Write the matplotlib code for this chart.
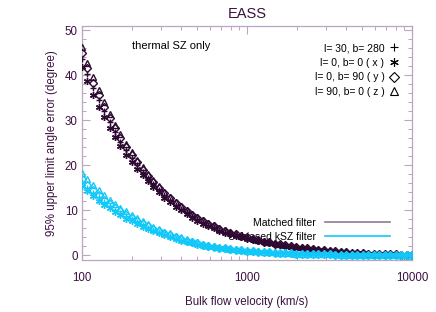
import matplotlib
matplotlib.use("Agg")
import matplotlib.pyplot as plt
from matplotlib.lines import Line2D
from matplotlib.ticker import MultipleLocator, LogLocator, NullFormatter, FixedLocator, FixedFormatter

plt.rcParams['font.family'] = ['Liberation Sans', 'DejaVu Sans']

velocity = [100, 108, 117, 126, 136, 147, 158, 171, 185, 200, 215, 233, 251, 271, 293, 316, 341, 369, 398, 430,
            464, 501, 541, 584, 631, 681, 736, 794, 858, 926, 1000, 1080, 1166, 1259, 1359, 1468, 1585, 1711, 1848, 1995,
            2154, 2326, 2512, 2712, 2929, 3162, 3415, 3687, 3981, 4299, 4642, 5012, 5412, 5843, 6310, 6813, 7356, 7943, 8577, 9261, 10000]

# Matched filter
mf_l30_b280 = [43.7, 40.4, 37.2, 34.5, 32.0, 29.6, 27.5, 25.3, 23.4, 21.6, 20.1, 18.5, 17.2, 15.8, 14.6, 13.4, 12.3, 11.3, 10.4, 9.6,
               8.7, 8.1, 7.4, 6.8, 6.3, 5.7, 5.3, 4.9, 4.6, 4.2, 3.9, 3.6, 3.3, 3.0, 2.8, 2.57, 2.38, 2.18, 1.99, 1.84,
               1.68, 1.52, 1.38, 1.24, 1.11, 0.99, 0.88, 0.79, 0.69, 0.61, 0.54, 0.49, 0.43, 0.38, 0.33, 0.29, 0.25, 0.22, 0.19, 0.16, 0.15]
mf_x = [41.9, 38.7, 35.7, 33.1, 30.7, 28.4, 26.3, 24.3, 22.4, 20.7, 19.3, 17.8, 16.5, 15.2, 14.0, 12.8, 11.8, 10.8, 10.0, 9.2,
        8.4, 7.7, 7.1, 6.5, 6.0, 5.5, 5.1, 4.7, 4.4, 4.0, 3.7, 3.4, 3.2, 2.9, 2.7, 2.46, 2.28, 2.09, 1.91, 1.77,
        1.61, 1.46, 1.32, 1.19, 1.06, 0.95, 0.85, 0.75, 0.66, 0.59, 0.52, 0.47, 0.41, 0.36, 0.32, 0.28, 0.24, 0.21, 0.19, 0.16, 0.14]
mf_y = [45.0, 41.6, 38.4, 35.6, 33.0, 30.5, 28.3, 26.1, 24.1, 22.3, 20.7, 19.1, 17.7, 16.3, 15.0, 13.8, 12.7, 11.6, 10.7, 9.9,
        9.0, 8.3, 7.6, 7.0, 6.5, 5.9, 5.5, 5.1, 4.7, 4.3, 4.0, 3.7, 3.4, 3.1, 2.9, 2.65, 2.45, 2.25, 2.05, 1.9,
        1.73, 1.57, 1.42, 1.28, 1.14, 1.02, 0.91, 0.81, 0.71, 0.63, 0.56, 0.50, 0.44, 0.39, 0.34, 0.30, 0.26, 0.23, 0.20, 0.17, 0.15]
mf_z = [46.4, 42.8, 39.6, 36.7, 34.0, 31.4, 29.1, 26.9, 24.8, 23.0, 21.3, 19.7, 18.2, 16.8, 15.5, 14.2, 13.1, 11.9, 11.0, 10.2,
        9.3, 8.5, 7.8, 7.2, 6.7, 6.1, 5.7, 5.3, 4.8, 4.4, 4.1, 3.8, 3.5, 3.2, 3.0, 2.73, 2.52, 2.32, 2.11, 1.96,
        1.78, 1.62, 1.46, 1.32, 1.17, 1.05, 0.94, 0.83, 0.73, 0.65, 0.58, 0.52, 0.45, 0.40, 0.35, 0.31, 0.27, 0.24, 0.21, 0.18, 0.15]

# Unbiased kSZ filter
uf_l30_b280 = [16.3, 15.1, 13.9, 12.9, 11.9, 11.0, 10.2, 9.4, 8.7, 8.0, 7.4, 6.8, 6.2, 5.7, 5.2, 4.75, 4.3, 3.9, 3.5, 3.2,
               2.86, 2.57, 2.32, 2.09, 1.89, 1.69, 1.51, 1.34, 1.21, 1.08, 0.98, 0.89, 0.82, 0.74, 0.66, 0.60, 0.54, 0.49, 0.44, 0.39,
               0.36, 0.32, 0.29, 0.26, 0.24, 0.21, 0.19, 0.17, 0.15, 0.14, 0.12, 0.12, 0.11, 0.10, 0.09, 0.08, 0.07, 0.07, 0.06, 0.05, 0.05]
uf_x = [15.5, 14.3, 13.2, 12.2, 11.3, 10.5, 9.7, 8.9, 8.2, 7.6, 7.0, 6.4, 5.9, 5.4, 4.9, 4.5, 4.1, 3.7, 3.3, 3.0,
        2.71, 2.44, 2.20, 1.98, 1.79, 1.60, 1.43, 1.27, 1.15, 1.03, 0.93, 0.85, 0.77, 0.70, 0.63, 0.57, 0.51, 0.46, 0.42, 0.37,
        0.34, 0.30, 0.27, 0.25, 0.23, 0.20, 0.18, 0.16, 0.15, 0.14, 0.12, 0.11, 0.10, 0.09, 0.08, 0.07, 0.06, 0.06, 0.05, 0.05, 0.05]
uf_y = [17.0, 15.7, 14.5, 13.4, 12.4, 11.5, 10.65, 9.8, 9.05, 8.33, 7.7, 7.08, 6.5, 5.97, 5.42, 4.95, 4.5, 4.08, 3.67, 3.32,
        2.98, 2.68, 2.42, 2.18, 1.97, 1.76, 1.57, 1.40, 1.26, 1.13, 1.02, 0.93, 0.85, 0.77, 0.69, 0.63, 0.56, 0.51, 0.46, 0.41,
        0.37, 0.33, 0.30, 0.27, 0.25, 0.22, 0.20, 0.18, 0.16, 0.15, 0.13, 0.12, 0.11, 0.10, 0.09, 0.08, 0.07, 0.07, 0.06, 0.05, 0.05]
uf_z = [18.4, 17.0, 15.7, 14.5, 13.4, 12.4, 11.5, 10.6, 9.8, 9.0, 8.3, 7.6, 7.0, 6.4, 5.9, 5.3, 4.9, 4.4, 4.0, 3.6,
        3.2, 2.9, 2.6, 2.35, 2.13, 1.9, 1.7, 1.51, 1.36, 1.22, 1.10, 1.00, 0.92, 0.83, 0.75, 0.68, 0.60, 0.55, 0.50, 0.44,
        0.40, 0.36, 0.32, 0.29, 0.27, 0.24, 0.22, 0.19, 0.17, 0.16, 0.14, 0.13, 0.12, 0.11, 0.10, 0.09, 0.08, 0.08, 0.06, 0.05, 0.05]

direction_labels = ["l= 30, b= 280", "l= 0, b= 0 ( x )", "l= 0, b= 90 ( y )", "l= 90, b= 0 ( z )"]
filter_labels = ["Matched filter", "Unbiased kSZ filter"]
x_tick_labels = ["100", "1000", "10000"]

TXT = '#3b1040'
DARK = '#2e0a33'
CYAN = '#12c8f8'
SPINE = '#b9a6bf'
MF_LINE = '#8e7c92'

fig = plt.figure(figsize=(4.36, 3.12), dpi=100)
ax = fig.add_axes([0.188, 0.1667, 0.757, 0.75])

asterisk = (6, 2, 0)
markers = ['+', asterisk, 'D', '^']
msizes = [5, 5, 3.6, 4.4]

for series, mk, ms in zip([mf_l30_b280, mf_x, mf_y, mf_z], markers, msizes):
    ax.plot(velocity, series, linestyle='none', marker=mk, ms=ms, mew=1.0,
            mfc='none', mec=DARK, zorder=3)
for series, mk, ms in zip([uf_l30_b280, uf_x, uf_y, uf_z], markers, msizes):
    ax.plot(velocity, series, linestyle='none', marker=mk, ms=ms, mew=1.0,
            mfc='none', mec=CYAN, zorder=3)

ax.set_xscale('log')
ax.set_xlim(100, 10000)
ax.set_ylim(-1, 51)

ax.xaxis.set_major_locator(FixedLocator([100, 1000, 10000]))
ax.xaxis.set_major_formatter(FixedFormatter(x_tick_labels))
ax.xaxis.set_minor_locator(LogLocator(base=10, subs=range(2, 10)))
ax.xaxis.set_minor_formatter(NullFormatter())
ax.yaxis.set_major_locator(MultipleLocator(10))
ax.yaxis.set_minor_locator(MultipleLocator(2))

for s in ax.spines.values():
    s.set_color(SPINE)
    s.set_linewidth(0.9)
ax.tick_params(which='both', direction='in', top=True, right=True, colors=SPINE,
               labelcolor=TXT, labelsize=8.3)
ax.tick_params(which='major', length=6, width=0.8)
ax.tick_params(which='minor', length=3, width=0.7)
ax.tick_params(axis='x', which='major', pad=9)
ax.tick_params(axis='y', which='major', pad=3)

ax.set_title("EASS", color=TXT, fontsize=10.5, pad=6)
ax.set_xlabel("Bulk flow velocity (km/s)", color=TXT, fontsize=8.3, labelpad=8)
ax.set_ylabel("95% upper limit angle error (degree)", color=TXT, fontsize=8.3, labelpad=5)

ax.text(0.152, 0.915, "thermal SZ only", transform=ax.transAxes, fontsize=8,
        color='black', ha='left', va='center')

sym_handles = [Line2D([], [], linestyle='none', marker=mk, ms=ms + 1.2, mew=0.8,
                      mfc='none', mec='black') for mk, ms in zip(markers, msizes)]
leg1 = ax.legend(sym_handles, direction_labels, loc='upper right', bbox_to_anchor=(0.97, 0.945),
                 frameon=False, markerfirst=False, fontsize=7.5, handlelength=0.8,
                 handletextpad=0.5, labelspacing=0.45, borderaxespad=0)
ax.add_artist(leg1)

line_handles = [Line2D([], [], color=MF_LINE, lw=1.2), Line2D([], [], color=CYAN, lw=1.2)]
leg2 = ax.legend(line_handles, filter_labels, loc='lower right', bbox_to_anchor=(0.945, 0.06),
                 frameon=False, markerfirst=False, fontsize=7.5, handlelength=6.2,
                 handletextpad=0.9, labelspacing=0.35, borderaxespad=0)
leg1.set_zorder(1)
leg2.set_zorder(1)

fig.savefig("out.png", dpi=100)
